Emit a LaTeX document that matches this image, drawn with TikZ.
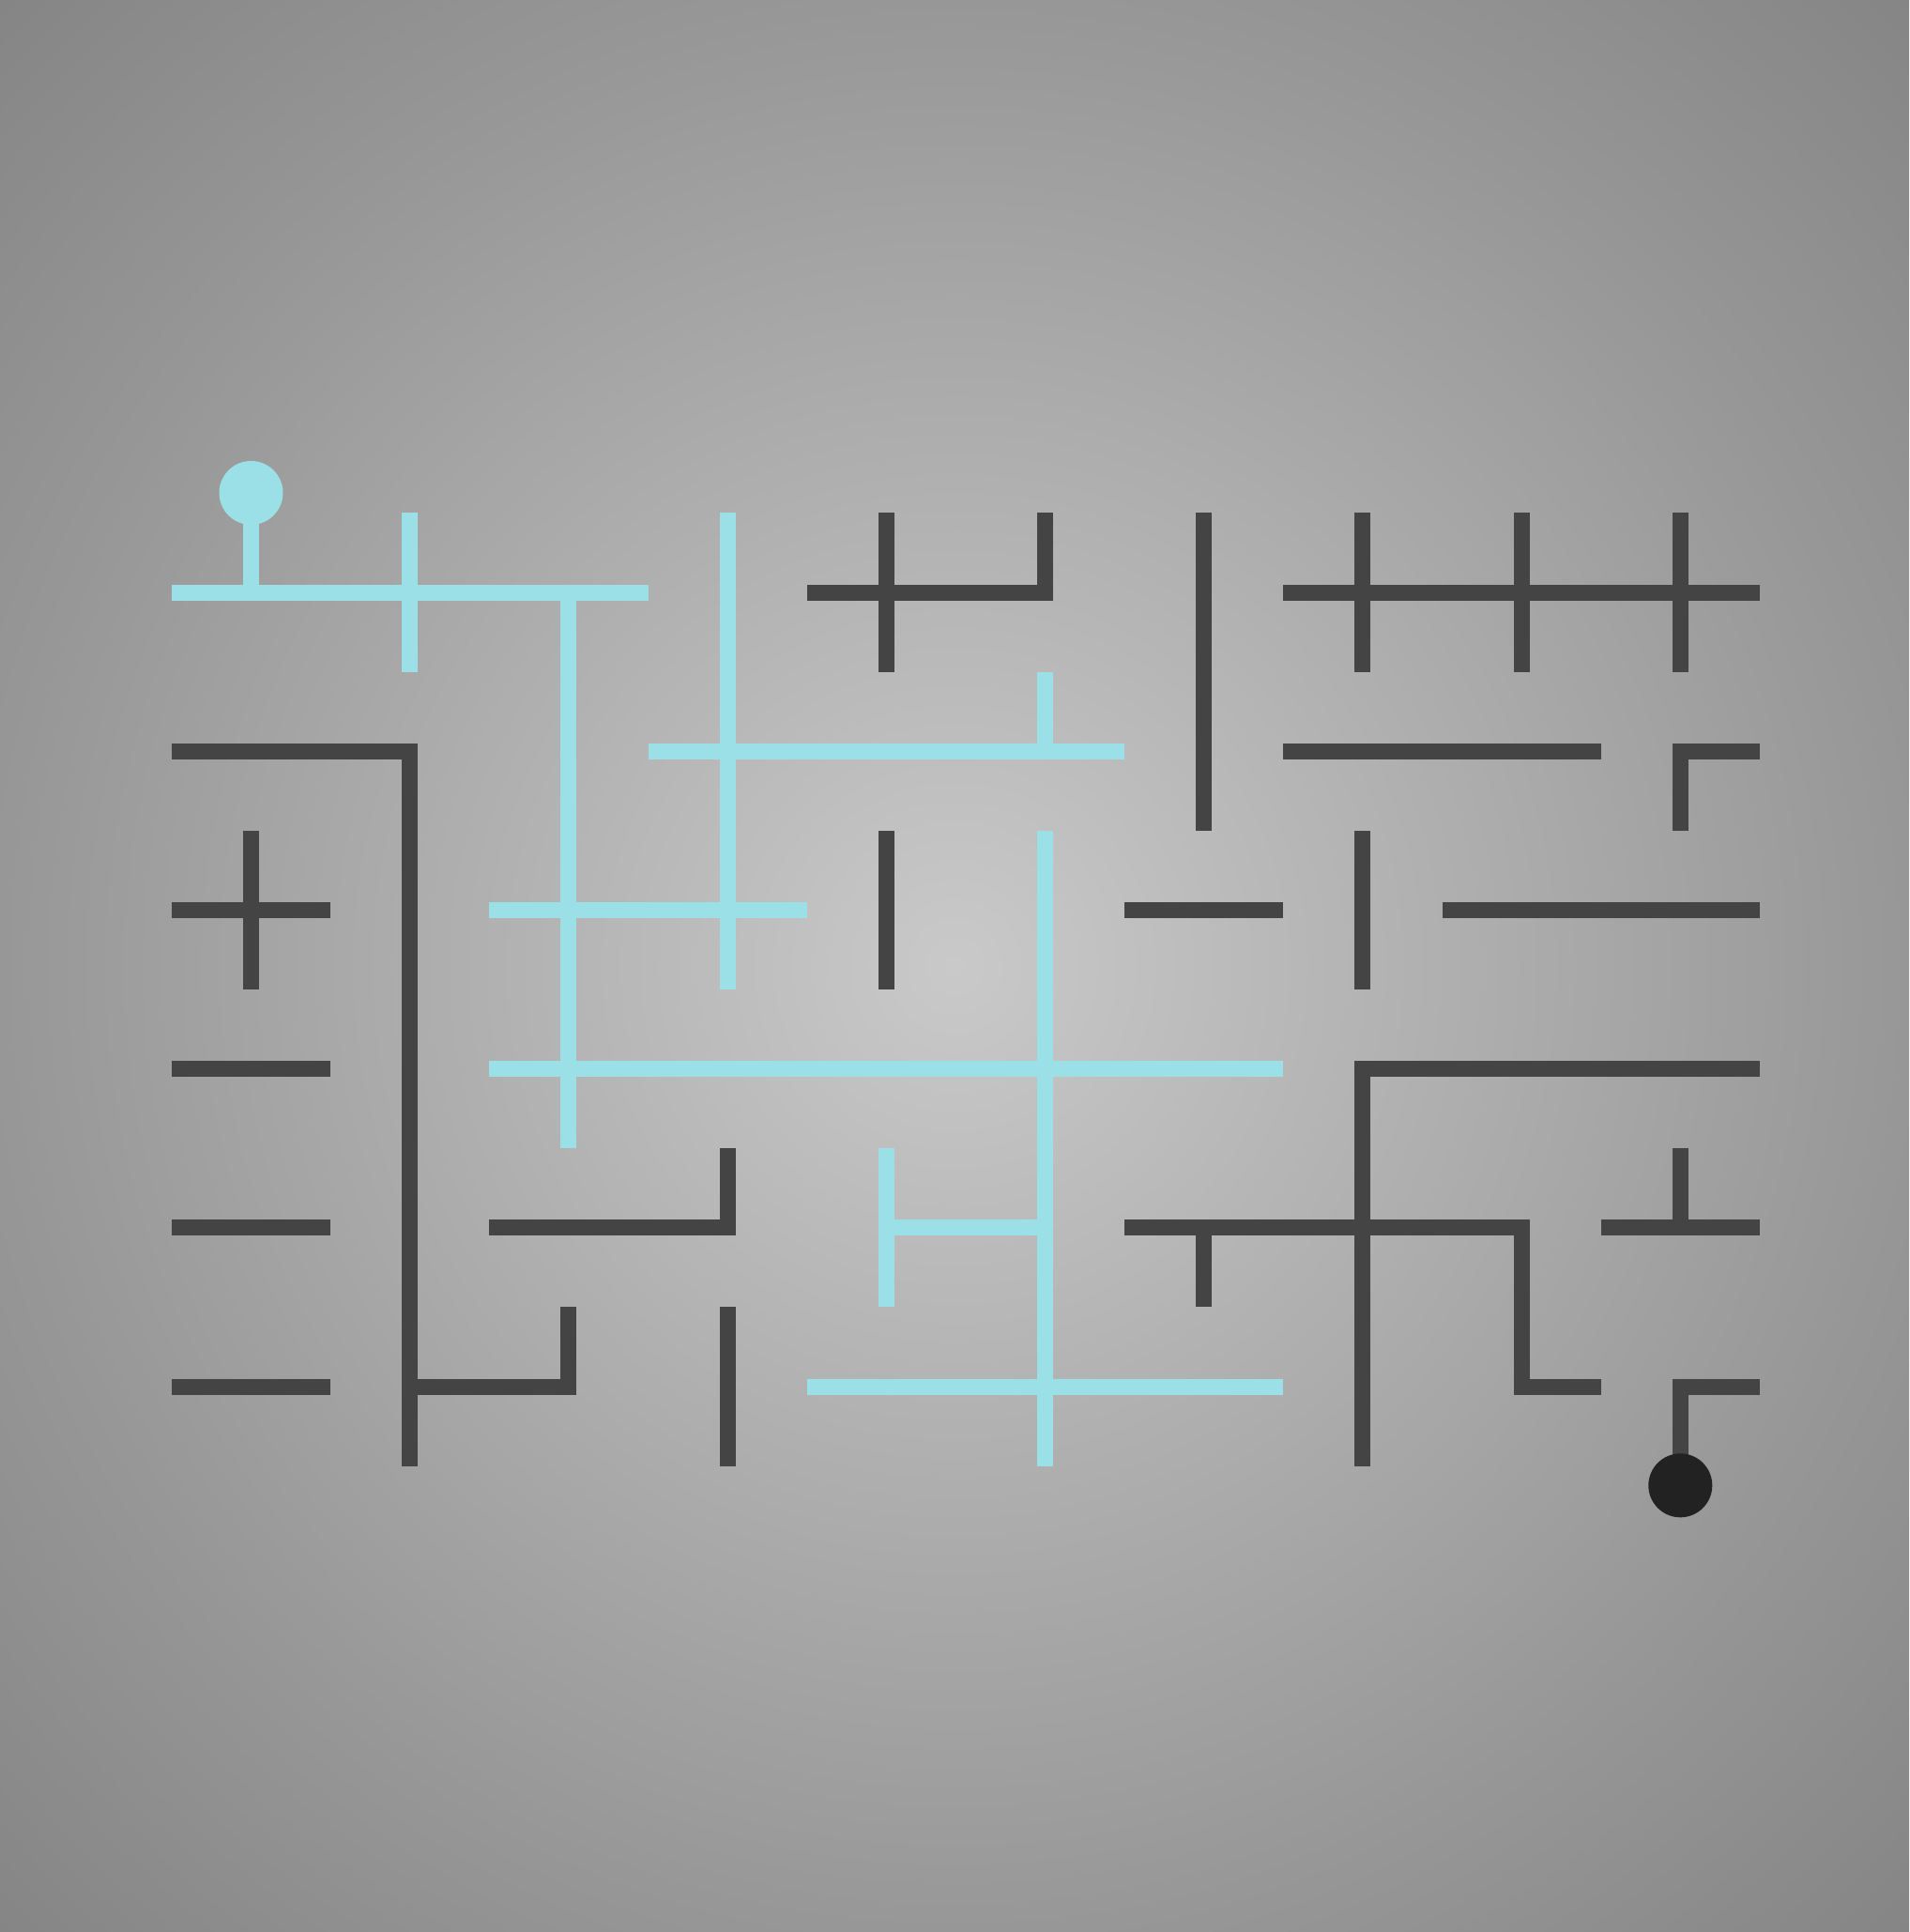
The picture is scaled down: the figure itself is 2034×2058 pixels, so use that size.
\documentclass[tikz,border=0pt]{standalone}
\definecolor{pipeblue}{RGB}{155,224,230}
\definecolor{pipedark}{RGB}{68,68,68}
\definecolor{enddark}{RGB}{34,34,34}
\definecolor{bgc}{RGB}{201,201,201}
\definecolor{bgm}{RGB}{151,151,151}
\definecolor{bgo}{RGB}{133,133,133}
\pgfdeclareradialshading{bgshade}{\pgfpoint{0bp}{0bp}}{color(0bp)=(bgc); color(25bp)=(bgm); color(35.4bp)=(bgo); color(50bp)=(bgo)}
\tikzset{
  lit/.style={draw=pipeblue, line width=17pt, line cap=butt},
  unlit/.style={draw=pipedark, line width=17pt, line cap=butt},
}
% #1 style, #2 column, #3 row, #4 list of arm angles (0=R, 90=U, 180=L, 270=D)
\newcommand\pipecell[4]{%
  \begin{scope}[shift={(267.5+169.2*#2,631+169.2*#3)}]
    \foreach \ang in {#4} {\draw[#1, rotate=\ang] (-8.5,0) -- (84.6,0);}
  \end{scope}}
\begin{document}
\begin{tikzpicture}[x=1pt,y=-1pt]
\useasboundingbox (0,0) rectangle (2034,2058);
\shade[shading=bgshade] (0,0) rectangle (2034,2058);
% row 0
\pipecell{lit}{0}{0}{0,90,180}
\pipecell{lit}{1}{0}{0,90,180,270}
\pipecell{lit}{2}{0}{0,180,270}
\pipecell{lit}{3}{0}{90,270}
\pipecell{unlit}{4}{0}{0,90,180,270}
\pipecell{unlit}{5}{0}{180,90}
\pipecell{unlit}{6}{0}{90,270}
\pipecell{unlit}{7}{0}{0,90,180,270}
\pipecell{unlit}{8}{0}{0,90,180,270}
\pipecell{unlit}{9}{0}{0,90,180,270}
% row 1
\pipecell{unlit}{0}{1}{0,180}
\pipecell{unlit}{1}{1}{180,270}
\pipecell{lit}{2}{1}{90,270}
\pipecell{lit}{3}{1}{0,90,180,270}
\pipecell{lit}{4}{1}{0,180}
\pipecell{lit}{5}{1}{0,90,180}
\pipecell{unlit}{6}{1}{90,270}
\pipecell{unlit}{7}{1}{0,180}
\pipecell{unlit}{8}{1}{0,180}
\pipecell{unlit}{9}{1}{0,270}
% row 2
\pipecell{unlit}{0}{2}{0,90,180,270}
\pipecell{unlit}{1}{2}{90,270}
\pipecell{lit}{2}{2}{0,90,180,270}
\pipecell{lit}{3}{2}{0,90,180,270}
\pipecell{unlit}{4}{2}{90,270}
\pipecell{lit}{5}{2}{90,270}
\pipecell{unlit}{6}{2}{0,180}
\pipecell{unlit}{7}{2}{90,270}
\pipecell{unlit}{8}{2}{0,180}
\pipecell{unlit}{9}{2}{0,180}
% row 3
\pipecell{unlit}{0}{3}{0,180}
\pipecell{unlit}{1}{3}{90,270}
\pipecell{lit}{2}{3}{0,90,180,270}
\pipecell{lit}{3}{3}{0,180}
\pipecell{lit}{4}{3}{0,180}
\pipecell{lit}{5}{3}{0,90,180,270}
\pipecell{lit}{6}{3}{0,180}
\pipecell{unlit}{7}{3}{0,270}
\pipecell{unlit}{8}{3}{0,180}
\pipecell{unlit}{9}{3}{0,180}
% row 4
\pipecell{unlit}{0}{4}{0,180}
\pipecell{unlit}{1}{4}{90,270}
\pipecell{unlit}{2}{4}{0,180}
\pipecell{unlit}{3}{4}{180,90}
\pipecell{lit}{4}{4}{0,90,270}
\pipecell{lit}{5}{4}{180,90,270}
\pipecell{unlit}{6}{4}{0,180,270}
\pipecell{unlit}{7}{4}{0,90,180,270}
\pipecell{unlit}{8}{4}{180,270}
\pipecell{unlit}{9}{4}{0,90,180}
% row 5
\pipecell{unlit}{0}{5}{0,180}
\pipecell{unlit}{1}{5}{0,90,270}
\pipecell{unlit}{2}{5}{180,90}
\pipecell{unlit}{3}{5}{90,270}
\pipecell{lit}{4}{5}{0,180}
\pipecell{lit}{5}{5}{0,90,180,270}
\pipecell{lit}{6}{5}{0,180}
\pipecell{unlit}{7}{5}{90,270}
\pipecell{unlit}{8}{5}{0,90}
\pipecell{unlit}{9}{5}{0,270}
% start and end
\fill[pipeblue] (267.5,525) circle[radius=34];
\node[circle, fill=enddark, minimum size=68pt, inner sep=0pt] (finish) at (1790.3,1582.3) {};
\end{tikzpicture}
\end{document}
